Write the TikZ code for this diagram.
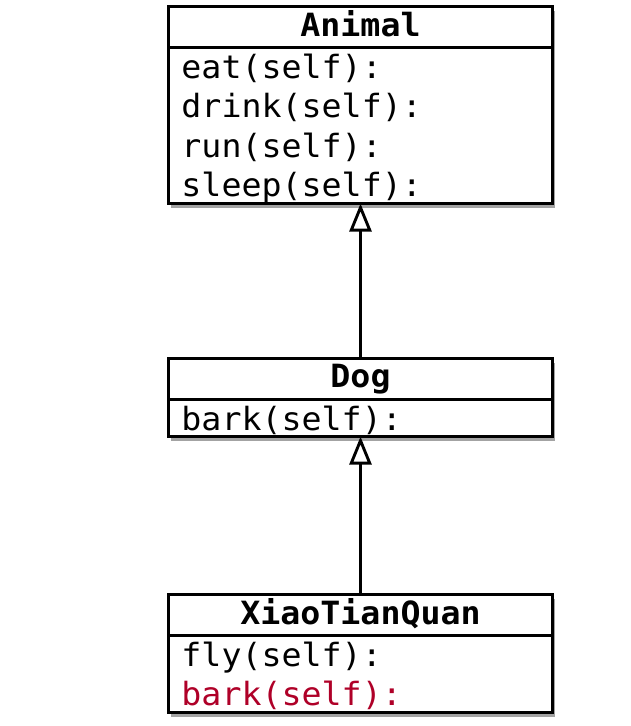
\documentclass[tikz,border=0pt]{standalone}
\usepackage{fontspec}
\setmonofont{DejaVu Sans Mono}[FakeStretch=1.04]
\usetikzlibrary{positioning,shadows,arrows.meta}
\definecolor{barkred}{RGB}{175, 0, 40}
\newcommand{\umlrow}[1]{\rule[-6.5pt]{0pt}{37pt}#1}

\begin{document}
\begin{tikzpicture}[x=1pt, y=-1pt,
    classbox/.style={draw=black, fill=white, line width=2.9pt, outer sep=0pt, minimum width=384.1pt,
        drop shadow={shadow xshift=2.5pt, shadow yshift=-4.5pt, opacity=0.6, fill=black!60}},
    classname/.style={classbox, minimum height=41.5pt, inner sep=0pt, text height=22pt, text depth=4pt,
        font=\ttfamily\bfseries\fontsize{32}{39.5}\selectfont},
    classops/.style={classbox, inner xsep=13pt, inner ysep=0pt, text width=358.1pt, align=left,
        font=\ttfamily\fontsize{32}{39.5}\selectfont},
    inherits/.style={-{Triangle[open, length=28pt, width=22pt]}, line width=2.9pt}]
            \useasboundingbox (0,0) rectangle (630,726);
            % Animal
            \node[classname, anchor=north] (animal) at (360.5, 6.4) {Animal};
            \node[classops, below=0pt of animal] (animalops)
                 {\umlrow{eat(self):}\\ \umlrow{drink(self):}\\ \umlrow{run(self):}\\ \umlrow{sleep(self):}};
            % Dog
            \node[classname, anchor=north] (dog) at (360.5, 358.1) {Dog};
            \node[classops, below=0pt of dog] (dogops) {\umlrow{bark(self):}};
            % XiaoTianQuan
            \node[classname, anchor=north] (xtq) at (360.5, 594.4) {XiaoTianQuan};
            \node[classops, below=0pt of xtq] (xtqops)
                 {\umlrow{fly(self):}\\ \umlrow{\textcolor{barkred}{bark(self):}}};
            \draw[inherits] (dog.north) -- (animalops.south);
            \draw[inherits] (xtq.north) -- (dogops.south);
\end{tikzpicture}
\end{document}
